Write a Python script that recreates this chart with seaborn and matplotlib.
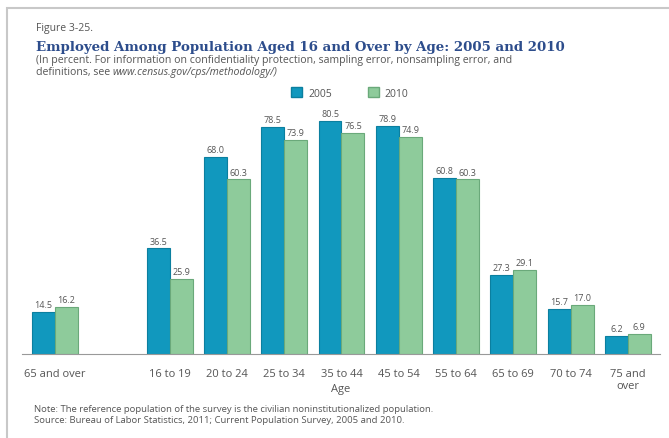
import matplotlib
matplotlib.use("Agg")
import matplotlib.pyplot as plt
import seaborn as sns
import pandas as pd
from matplotlib.patches import Rectangle, Patch

categories = ["65 and over", " ", "16 to 19", "20 to 24", "25 to 34", "35 to 44",
              "45 to 54", "55 to 64", "65 to 69", "70 to 74", "75 and\nover"]
data_categories = ["65 and over", "16 to 19", "20 to 24", "25 to 34", "35 to 44",
                   "45 to 54", "55 to 64", "65 to 69", "70 to 74", "75 and\nover"]
values_2005 = [14.5, 36.5, 68.0, 78.5, 80.5, 78.9, 60.8, 27.3, 15.7, 6.2]
values_2010 = [16.2, 25.9, 60.3, 73.9, 76.5, 74.9, 60.3, 29.1, 17.0, 6.9]
years = ["2005", "2010"]

df = pd.DataFrame({
    "Age": data_categories * 2,
    "Percent": values_2005 + values_2010,
    "Year": [years[0]] * len(data_categories) + [years[1]] * len(data_categories),
})

sns.set_theme(style="white")
plt.rcParams['font.family'] = ['Open Sans', 'DejaVu Sans']

W, H = 669, 439
fig = plt.figure(figsize=(W / 100, H / 100), dpi=100)
ax = fig.add_axes([22 / W, 1 - 355 / H, (660 - 22) / W, (355 - 95) / H])

blue = "#1198be"
green = "#8ecb9b"
sns.barplot(data=df, x="Age", y="Percent", hue="Year", order=categories,
            hue_order=years, palette=[blue, green], width=0.8, ax=ax,
            legend=False, saturation=1)

edges = ["#0b7f9f", "#6aa97a"]
for cont, ec in zip(ax.containers, edges):
    for p in cont:
        p.set_edgecolor(ec)
        p.set_linewidth(0.8)
    ax.bar_label(cont, fmt="%.1f", padding=2, fontsize=6.5, color="#555555")

ax.set_xlim(-0.576, 10.56)
ax.set_ylim(0, 89.8)
ax.set_yticks([])
for s in ["top", "right", "left"]:
    ax.spines[s].set_visible(False)
ax.spines["bottom"].set_color("#999999")
ax.spines["bottom"].set_linewidth(0.8)
ax.tick_params(axis="x", length=0, pad=10, labelsize=8, labelcolor="#555555")
ax.set_xlabel("Age", fontsize=8, color="#555555", va="center")
ax.xaxis.set_label_coords(0.5, -35 / 260)
ax.set_ylabel("")

# frame
fig.patches.append(Rectangle((7 / W, -0.1), 1.2, (1 - 9 / H) + 0.1,
                             transform=fig.transFigure, fill=False,
                             edgecolor="#c8c8c8", linewidth=1.5))

# titles
fig.text(36 / W, 1 - 29 / H, "Figure 3-25.", fontsize=7.5, color="#555555", va="center")
fig.text(36 / W, 1 - 47 / H, "Employed Among Population Aged 16 and Over by Age: 2005 and 2010",
         fontsize=9.6, color="#2d4d8c", fontweight="bold", family="DejaVu Serif", va="center")
fig.text(36 / W, 1 - 61 / H,
         "(In percent. For information on confidentiality protection, sampling error, nonsampling error, and",
         fontsize=7.6, color="#555555", va="center")
t1 = fig.text(36 / W, 1 - 73 / H, "definitions, see ", fontsize=7.6, color="#555555", va="center")
fig.canvas.draw()
bb = t1.get_window_extent()
fig.text(bb.x1 / W, 1 - 73 / H, "www.census.gov/cps/methodology/)", fontsize=7.6,
         color="#555555", va="center", style="italic")

# legend
handles = [Patch(facecolor=blue, edgecolor=edges[0]), Patch(facecolor=green, edgecolor=edges[1])]
fig.legend(handles, years, loc="center", bbox_to_anchor=(350 / W, 1 - 94 / H), ncol=2,
           frameon=False, fontsize=7.5, handlelength=1.0, handleheight=1.0,
           columnspacing=3.5, handletextpad=0.6, labelcolor="#555555")

fig.text(34 / W, 1 - 410 / H,
         "Note: The reference population of the survey is the civilian noninstitutionalized population.",
         fontsize=6.8, color="#555555", va="center")
fig.text(34 / W, 1 - 421 / H,
         "Source: Bureau of Labor Statistics, 2011; Current Population Survey, 2005 and 2010.",
         fontsize=6.8, color="#555555", va="center")

fig.savefig("out.png", dpi=100, facecolor="white")
